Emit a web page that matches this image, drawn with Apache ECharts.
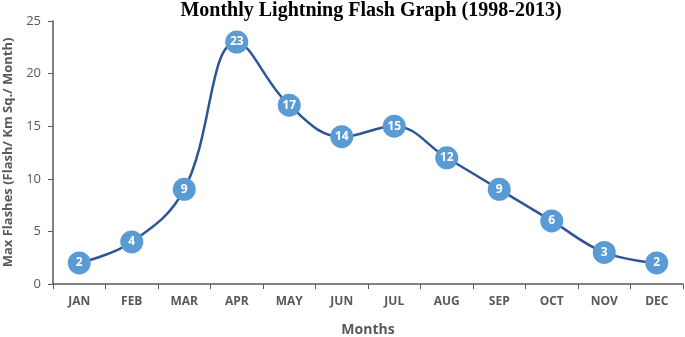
<!DOCTYPE html>
<html><head><meta charset="utf-8">
<script src="https://cdn.jsdelivr.net/npm/echarts@6/dist/echarts.min.js"></script>
<style>html,body{margin:0;padding:0;background:#fff}#c{width:685px;height:337px}</style>
</head><body><div id="c"></div>
<script>
const months = ['JAN','FEB','MAR','APR','MAY','JUN','JUL','AUG','SEP','OCT','NOV','DEC'];
const flashes = [2,4,9,23,17,14,15,12,9,6,3,2];
const yTicks = {min:0, max:25, interval:5};
const chart = echarts.init(document.getElementById('c'));
chart.setOption({
  animation:false,
  title:{text:'Monthly Lightning Flash Graph (1998-2013)', left:366, top:-4, textAlign:'center',
    textStyle:{fontFamily:'Liberation Serif', fontWeight:'bold', fontSize:20, color:'#000'}},
  grid:{left:53, right:2, top:21, bottom:53, outerBoundsMode:'none', containLabel:false},
  xAxis:{type:'category', data:months, boundaryGap:true,
    name:'Months', nameLocation:'middle', nameGap:39,
    nameTextStyle:{fontFamily:'Open Sans', fontWeight:'bold', fontSize:14, color:'#595959'},
    axisLine:{lineStyle:{color:'#595959', width:1.5}},
    axisTick:{show:true, alignWithLabel:false, length:5, lineStyle:{color:'#595959'}},
    axisLabel:{fontFamily:'Open Sans', fontWeight:'bold', fontSize:12, color:'#595959', margin:12}},
  yAxis:{type:'value', min:yTicks.min, max:yTicks.max, interval:yTicks.interval,
    name:'Max Flashes (Flash/ Km Sq./ Month)', nameLocation:'middle', nameGap:36,
    nameTextStyle:{fontFamily:'Open Sans', fontWeight:'bold', fontSize:13, color:'#595959'},
    axisLine:{show:true, lineStyle:{color:'#595959', width:1.5}},
    axisTick:{show:true, length:5, lineStyle:{color:'#595959'}},
    splitLine:{show:false},
    axisLabel:{fontFamily:'Open Sans', fontSize:13, color:'#595959', margin:12}},
  series:[{type:'line', data:flashes, smooth:0.4, symbol:'circle', symbolSize:23,
    lineStyle:{color:'#2F5597', width:2.5},
    itemStyle:{color:'#5B9BD5'},
    label:{show:true, position:'inside', color:'#fff', fontFamily:'Open Sans', fontWeight:'bold', fontSize:12}}]
});
</script></body></html>
